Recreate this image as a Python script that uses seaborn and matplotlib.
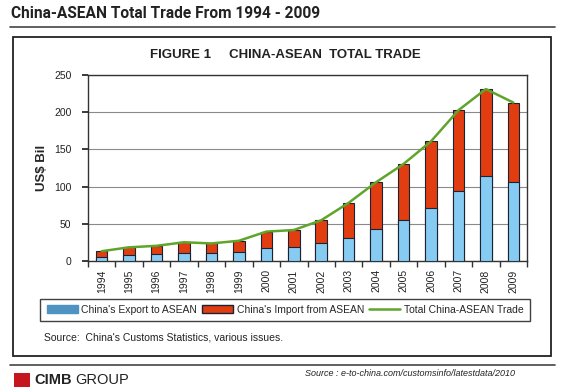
import matplotlib
matplotlib.use("Agg")
import matplotlib.pyplot as plt
import matplotlib.patches as mpatches
from matplotlib.lines import Line2D
import pandas as pd
import seaborn as sns

# Values (US$ billion)
years = ["1994", "1995", "1996", "1997", "1998", "1999", "2000", "2001",
         "2002", "2003", "2004", "2005", "2006", "2007", "2008", "2009"]
exports = [5.4, 8.6, 9.0, 11.3, 11.0, 12.2, 17.3, 18.4,
           23.6, 30.9, 42.9, 55.4, 71.3, 94.2, 114.1, 106.3]
totals = [13.2, 18.4, 20.4, 25.2, 23.6, 27.2, 39.5, 41.6,
          54.8, 78.2, 105.9, 130.4, 160.8, 202.6, 231.1, 213.0]
imports = [t - e for t, e in zip(totals, exports)]

df = pd.DataFrame({"year": years, "export": exports,
                   "import": imports, "total": totals})

EXPORT_C = "#86CBF2"
IMPORT_C = "#E23D10"
LINE_C = "#5FA52C"
EDGE_C = "#1B2233"

sns.set_theme(style="white")
plt.rcParams["font.family"] = ["Liberation Sans", "DejaVu Sans"]

fig = plt.figure(figsize=(5.67, 3.92), dpi=100)
ax = fig.add_axes([88 / 567, 1 - 261 / 392, 439 / 567, 186 / 392])

# stacked bars: total (red) behind, export (blue) in front
sns.barplot(data=df, x="year", y="total", color=IMPORT_C, width=0.42,
            saturation=1, edgecolor=EDGE_C, linewidth=0.8, ax=ax, zorder=2)
sns.barplot(data=df, x="year", y="export", color=EXPORT_C, width=0.42,
            saturation=1, edgecolor=EDGE_C, linewidth=0.8, ax=ax, zorder=3)
sns.lineplot(x=range(len(years)), y=df["total"], color=LINE_C, lw=1.8,
             ax=ax, zorder=4)

ax.set_xlim(-0.5, len(years) - 0.5)
ax.set_ylim(0, 250)
ax.set_yticks(range(0, 251, 50))
ax.yaxis.grid(True, color="#8a8a8a", lw=0.8, zorder=0)
ax.set_axisbelow(True)
for s in ax.spines.values():
    s.set_color("#333333")
    s.set_linewidth(1.0)
ax.set_xlabel("")
ax.set_ylabel("US$ Bil", fontsize=9.5, fontweight="bold", labelpad=4)
ax.tick_params(axis="y", labelsize=7.5, length=4, direction="out",
               left=True, colors="#222222", pad=8)
ax.tick_params(axis="x", labelsize=7.5, rotation=90, length=0, pad=6,
               colors="#222222")
# tick marks between categories on the bottom axis
ax.set_xticks([i + 0.5 for i in range(-1, len(years))], minor=True)
ax.tick_params(axis="x", which="minor", bottom=True, length=4,
               direction="out", color="#333333")

handles = [
    mpatches.Patch(facecolor="#4F93C2", edgecolor="#4F93C2"),
    mpatches.Patch(facecolor=IMPORT_C, edgecolor=EDGE_C),
    Line2D([0], [0], color=LINE_C, lw=1.8),
]
labels = ["China's Export to ASEAN", "China's Import from ASEAN",
          "Total China-ASEAN Trade"]
leg = fig.legend(handles, labels, loc="center", ncol=3, fontsize=7.5,
                 bbox_to_anchor=(285 / 567, 1 - 310 / 392), frameon=True,
                 fancybox=False, edgecolor="#111111", handlelength=3.0,
                 handleheight=0.8, handletextpad=0.3, columnspacing=0.5,
                 borderpad=0.6, borderaxespad=0.3)
leg.get_frame().set_linewidth(1.0)

# titles and frame decorations
fig.text(11 / 567, 1 - 14 / 392, "China-ASEAN Total Trade From 1994 - 2009",
         fontsize=11.2, fontweight="bold", va="center", ha="left",
         color="#222222", family=["Roboto", "Liberation Sans"])
fig.add_artist(Line2D([10 / 567, 555 / 567], [1 - 27 / 392, 1 - 27 / 392],
                      color="#444444", lw=1.2))
fig.add_artist(mpatches.Rectangle((13 / 567, 1 - 356 / 392), 538 / 567,
                                  319 / 392, fill=False, edgecolor="#222222",
                                  lw=1.3))
fig.text(285 / 567, 1 - 55 / 392, "FIGURE 1     CHINA-ASEAN  TOTAL TRADE",
         fontsize=9.5, fontweight="bold", ha="center", va="center",
         color="#222222")
fig.text(44 / 567, 1 - 338 / 392, "Source:  China's Customs Statistics, various issues.",
         fontsize=7.5, ha="left", va="center", color="#222222")
fig.add_artist(Line2D([10 / 567, 555 / 567], [1 - 365 / 392, 1 - 365 / 392],
                      color="#444444", lw=1.2))

# CIMB logo and web source
fig.add_artist(mpatches.Rectangle((14 / 567, 1 - 387 / 392), 16 / 567,
                                  14 / 392, facecolor="#C4161C",
                                  edgecolor="none"))
fig.text(34 / 567, 1 - 380 / 392, "CIMB", fontsize=10.5, fontweight="bold",
         color="#222222", ha="left", va="center")
fig.text(75 / 567, 1 - 380 / 392, "GROUP", fontsize=10.5, color="#222222",
         ha="left", va="center")
fig.text(305 / 567, 1 - 373 / 392,
         "Source : e-to-china.com/customsinfo/latestdata/2010",
         fontsize=6.5, style="italic", color="#222222", ha="left", va="center")

fig.savefig("out.png", dpi=100, facecolor="white")
